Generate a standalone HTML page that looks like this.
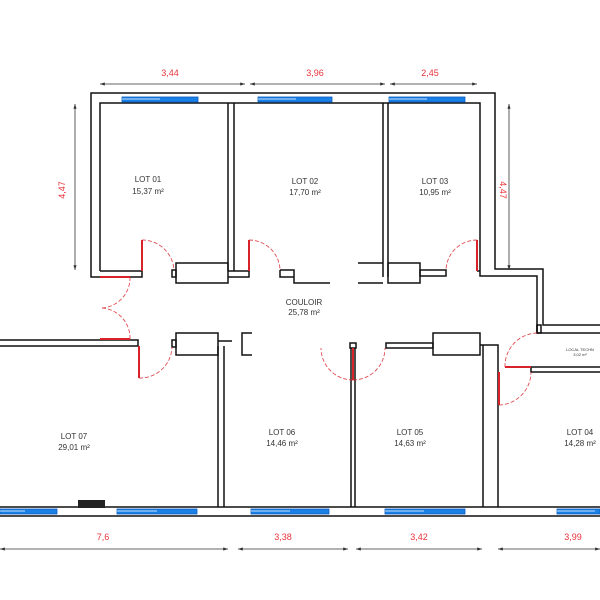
<!DOCTYPE html>
<html><head><meta charset="utf-8"><style>
html,body{margin:0;padding:0;background:#fff;width:600px;height:600px;overflow:hidden}
svg{display:block}
text{font-family:"Liberation Sans",sans-serif}
</style></head><body>
<svg width="600" height="600" viewBox="0 0 600 600" xmlns="http://www.w3.org/2000/svg">
<defs>
<marker id="ar" markerWidth="6" markerHeight="4" refX="6" refY="2" orient="auto"><path d="M0,0L6,2L0,4z" fill="#333"/></marker>
</defs>
<g fill="none" stroke="#111" stroke-width="1.5">
<!-- top outer wall -->
<path d="M91,271 V93 H495 V269 H543 V325 H600"/>
<path d="M100,271 V103 H480 V276 H537 V333 H600"/>
<!-- partitions top -->
<path d="M228,103 V271 M234,103 V271"/>
<path d="M383,103 V277 M388,103 V277"/>
<!-- LOT01 bottom -->
<path d="M91,271 V277 H142 V271 H100"/>
<rect x="176" y="263" width="52" height="20"/>
<rect x="172" y="270" width="4" height="7"/>
<path d="M228,271 H249 V277 H228"/>
<!-- corridor pieces -->
<path d="M280,270 H294 V283 H330 M280,270 V277 H294"/>
<path d="M358,263 H383 M358,283 H383"/>
<rect x="388" y="263" width="32" height="20"/>
<rect x="420" y="270" width="26" height="6"/>
<path d="M477,271 H480"/>
<!-- LOT07 top -->
<path d="M0,340 H138 V346 H0"/>
<rect x="176" y="333" width="42" height="22"/>
<rect x="172" y="340" width="4" height="7"/>
<path d="M218,341 H232 M252,333 H242 V355 H252"/>
<path d="M218,346 V507 M224,346 V507"/>
<rect x="350" y="343" width="6" height="5"/>
<path d="M351,348 V507 M355,348 V507"/>
<path d="M386,343 H433 V348 H386 Z"/>
<rect x="433" y="333" width="47" height="22"/>
<path d="M480,345 H498 V507 M483,345 V507"/>
<path d="M537,325 V333"/>
<rect x="537" y="325" width="4" height="8"/>
<path d="M531,367 H600 M535,372 H600 M531,367 V372 H535"/>
<!-- bottom wall -->
<path d="M0,507 H600 M0,516 H600"/>
</g>
<!-- windows -->
<g fill="#1a7fe6" stroke="#0a5fc0" stroke-width="0.8">
<rect x="122" y="97" width="76" height="5"/>
<rect x="258" y="97" width="74" height="5"/>
<rect x="389" y="97" width="76" height="5"/>
<rect x="0" y="509" width="57" height="5"/>
<rect x="117" y="509" width="80" height="5"/>
<rect x="251" y="509" width="78" height="5"/>
<rect x="385" y="509" width="80" height="5"/>
<rect x="557" y="509" width="43" height="5"/>
</g>
<g stroke="#fff" stroke-width="0.8">
<path d="M122,99 H160 M258,99 H296 M389,99 H427 M0,511 H25 M117,511 H157 M251,511 H290 M385,511 H424 M557,511 H595"/>
</g>
<rect x="78" y="500" width="27" height="8" fill="#222"/>
<!-- doors red -->
<g stroke="#d8232a" stroke-width="2" fill="none">
<path d="M142,240 V271 M249,240 V271 M477,240 V271"/>
<path d="M100,277 H130 M100,339 H130"/>
<path d="M139,346 V378 M353,348 V380 M499,372 V405 M505,367 H531"/>
</g>
<g stroke="#d8232a" stroke-width="0.9" stroke-dasharray="4,2" fill="none" opacity="0.8">
<path d="M142,240 A32,32 0 0 1 174,270"/>
<path d="M249,240 A31,31 0 0 1 280,270"/>
<path d="M477,240 A31,31 0 0 0 446,270"/>
<path d="M130,277 A30,30 0 0 1 100,308 M130,339 A30,30 0 0 0 100,308"/>
<path d="M139,378 A32,32 0 0 0 172,347"/>
<path d="M353,380 A32,32 0 0 1 321,348 M353,380 A32,32 0 0 0 385,348"/>
<path d="M505,367 A33,33 0 0 1 537,333"/>
<path d="M499,405 A33,33 0 0 0 531,372"/>
</g>
<!-- dimension lines -->
<g stroke="#333" stroke-width="0.8" fill="none" marker-end="url(#ar)">
<path d="M170,84 H100"/><path d="M170,84 H245"/>
<path d="M315,84 H250"/><path d="M315,84 H385"/>
<path d="M430,84 H390"/><path d="M430,84 H477"/>
<path d="M75,190 V104"/><path d="M75,190 V270"/>
<path d="M509,190 V104"/><path d="M509,190 V270"/>
<path d="M120,549 H0"/><path d="M120,549 H228"/>
<path d="M300,549 H238"/><path d="M300,549 H348"/>
<path d="M420,549 H356"/><path d="M420,549 H482"/>
<path d="M570,549 H498"/><path d="M570,549 H600"/>
</g>
<g fill="#e8333a" font-size="9" text-anchor="middle">
<text x="170" y="76">3,44</text>
<text x="315" y="76">3,96</text>
<text x="430" y="76">2,45</text>
<text x="65" y="190" transform="rotate(-90 65 190)">4,47</text>
<text x="500" y="190" transform="rotate(90 500 190)">4,47</text>
<text x="103" y="540">7,6</text>
<text x="283" y="540">3,38</text>
<text x="419" y="540">3,42</text>
<text x="573" y="540">3,99</text>
</g>
<g fill="#333" font-size="8" text-anchor="middle">
<text x="148" y="182">LOT 01</text><text x="148" y="194">15,37 m²</text>
<text x="305" y="184">LOT 02</text><text x="305" y="195">17,70 m²</text>
<text x="435" y="184">LOT 03</text><text x="435" y="195">10,95 m²</text>
<text x="304" y="305">COULOIR</text><text x="304" y="315">25,78 m²</text>
<text x="74" y="439">LOT 07</text><text x="74" y="450">29,01 m²</text>
<text x="282" y="435">LOT 06</text><text x="282" y="446">14,46 m²</text>
<text x="410" y="435">LOT 05</text><text x="410" y="446">14,63 m²</text>
<text x="580" y="435">LOT 04</text><text x="580" y="446">14,28 m²</text>
<text x="580" y="351" font-size="4">LOCAL TECHN</text><text x="580" y="356" font-size="4">3,02 m²</text>
</g>
</svg>
</body></html>
